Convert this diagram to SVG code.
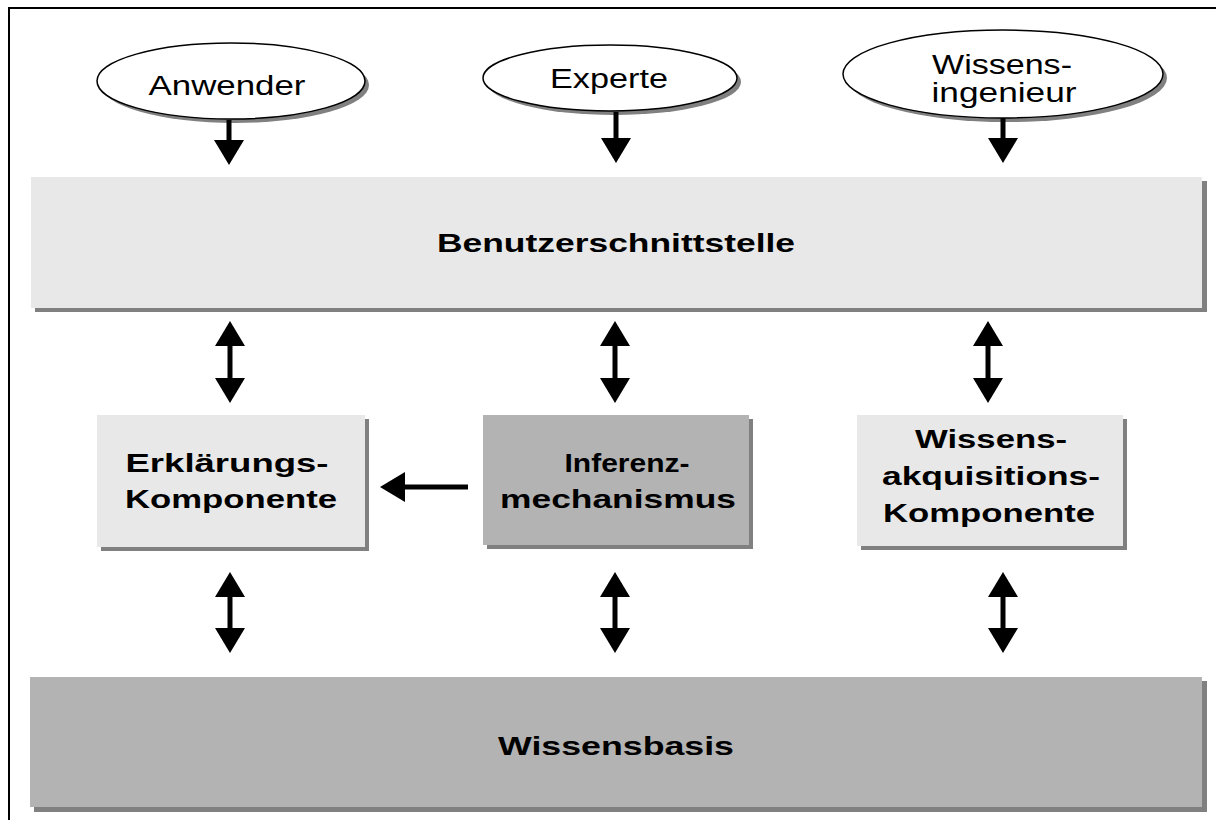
<svg xmlns="http://www.w3.org/2000/svg" width="1216" height="820" viewBox="0 0 1216 820">
<defs>
<style>
.bg{fill:#ffffff}
.frame{fill:none;stroke:#000;stroke-width:2}
.sh{fill:#808080}
.light{fill:#e8e8e8}
.dark{fill:#b3b3b3}
.ell{fill:#ffffff;stroke:#000;stroke-width:1.5}
.t{font-family:"Liberation Sans",Arial,sans-serif;font-size:27px;fill:#000;text-anchor:middle}
.b{font-family:"Liberation Sans",Arial,sans-serif;font-size:25px;font-weight:bold;fill:#000;text-anchor:middle}
.conn{stroke:#000;stroke-width:5;fill:none}
</style>
<marker id="ah" viewBox="0 0 25 30" refX="0" refY="15" markerWidth="25" markerHeight="30" markerUnits="userSpaceOnUse" orient="auto-start-reverse">
<path d="M0,0 L25,15 L0,30 z" fill="#000"/>
</marker>
</defs>
<rect class="bg" x="0" y="0" width="1216" height="820"/>
<rect class="frame" x="9" y="8" width="1230" height="830"/>

<g id="anwender">
<ellipse class="sh" cx="235" cy="85" rx="134" ry="38"/>
<ellipse class="ell" cx="231" cy="81" rx="134" ry="38"/>
<text class="t" x="227" y="95" textLength="157" lengthAdjust="spacingAndGlyphs">Anwender</text>
</g>
<g id="experte">
<ellipse class="sh" cx="614" cy="82" rx="127" ry="33"/>
<ellipse class="ell" cx="610" cy="78" rx="127" ry="33"/>
<text class="t" x="609" y="88" textLength="118" lengthAdjust="spacingAndGlyphs">Experte</text>
</g>
<g id="wissensingenieur">
<ellipse class="sh" cx="1007" cy="78" rx="160" ry="44"/>
<ellipse class="ell" cx="1003" cy="74" rx="160" ry="44"/>
<text class="t" x="1002" y="74" textLength="140" lengthAdjust="spacingAndGlyphs">Wissens-</text>
<text class="t" x="1004" y="102" textLength="145" lengthAdjust="spacingAndGlyphs">ingenieur</text>
</g>

<g id="benutzerschnittstelle">
<rect class="sh" x="35" y="181" width="1172" height="131"/>
<rect class="light" x="31" y="177" width="1171" height="131"/>
<text class="b" x="616" y="252" textLength="358" lengthAdjust="spacingAndGlyphs">Benutzerschnittstelle</text>
</g>

<g id="erklaerung">
<rect class="sh" x="101" y="419" width="268" height="132"/>
<rect class="light" x="97" y="415" width="268" height="132"/>
<text class="b" x="227" y="472" textLength="203" lengthAdjust="spacingAndGlyphs">Erklärungs-</text>
<text class="b" x="231" y="508" textLength="212" lengthAdjust="spacingAndGlyphs">Komponente</text>
</g>
<g id="inferenz">
<rect class="sh" x="487" y="419" width="266" height="130"/>
<rect class="dark" x="483" y="415" width="266" height="130"/>
<text class="b" x="627" y="472" textLength="125" lengthAdjust="spacingAndGlyphs">Inferenz-</text>
<text class="b" x="618" y="508" textLength="236" lengthAdjust="spacingAndGlyphs">mechanismus</text>
</g>
<g id="wissensakquisition">
<rect class="sh" x="861" y="419" width="266" height="131"/>
<rect class="light" x="857" y="415" width="266" height="131"/>
<text class="b" x="991" y="448" textLength="152" lengthAdjust="spacingAndGlyphs">Wissens-</text>
<text class="b" x="991" y="485" textLength="218" lengthAdjust="spacingAndGlyphs">akquisitions-</text>
<text class="b" x="989" y="522" textLength="212" lengthAdjust="spacingAndGlyphs">Komponente</text>
</g>

<g id="wissensbasis">
<rect class="sh" x="34" y="681" width="1173" height="131"/>
<rect class="dark" x="30" y="677" width="1172" height="130"/>
<text class="b" x="616" y="755" textLength="236" lengthAdjust="spacingAndGlyphs">Wissensbasis</text>
</g>

<g id="connectors">
<line class="conn" x1="229" y1="120" x2="229" y2="140" marker-end="url(#ah)"/>
<line class="conn" x1="616" y1="112" x2="616" y2="138" marker-end="url(#ah)"/>
<line class="conn" x1="1003" y1="118" x2="1003" y2="138" marker-end="url(#ah)"/>

<line class="conn" x1="230" y1="346" x2="230" y2="378" marker-start="url(#ah)" marker-end="url(#ah)"/>
<line class="conn" x1="615" y1="346" x2="615" y2="378" marker-start="url(#ah)" marker-end="url(#ah)"/>
<line class="conn" x1="988" y1="346" x2="988" y2="378" marker-start="url(#ah)" marker-end="url(#ah)"/>

<line class="conn" x1="468" y1="487" x2="405" y2="487" marker-end="url(#ah)"/>

<line class="conn" x1="230" y1="597" x2="230" y2="628" marker-start="url(#ah)" marker-end="url(#ah)"/>
<line class="conn" x1="615" y1="597" x2="615" y2="628" marker-start="url(#ah)" marker-end="url(#ah)"/>
<line class="conn" x1="1003" y1="597" x2="1003" y2="628" marker-start="url(#ah)" marker-end="url(#ah)"/>
</g>
</svg>
